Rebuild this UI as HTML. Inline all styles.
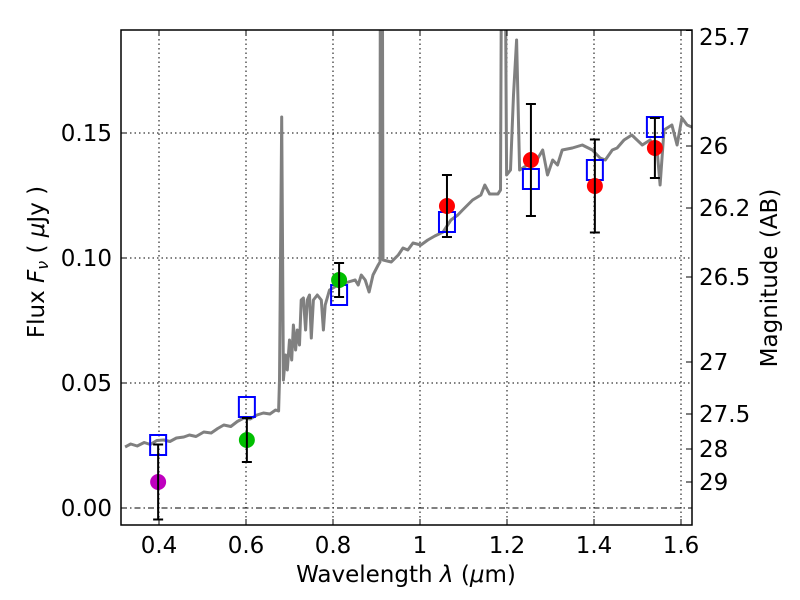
<!DOCTYPE html>
<html><head><meta charset="utf-8"><style>
body{margin:0;background:#fff;}
svg{display:block;font-family:"DejaVu Sans","Liberation Sans",sans-serif;}
</style></head><body>
<svg id="chart" width="800" height="600">
<defs><clipPath id="clip"><rect x="121" y="30" width="571" height="495"/></clipPath></defs>
<rect x="0" y="0" width="800" height="600" fill="#fff"/>
<g id="grid"></g>
<g id="plot" clip-path="url(#clip)"></g>
<g id="axes"></g>
<rect x="121" y="30" width="571" height="495" fill="none" stroke="#000" stroke-width="1.5"/>
<text x="406" y="582" font-size="23" text-anchor="middle">Wavelength  <tspan font-style="italic">λ</tspan> (<tspan font-style="italic">μ</tspan>m)</text>
<text transform="translate(44,262) rotate(-90)" font-size="23" text-anchor="middle">Flux  <tspan font-style="italic">F</tspan><tspan font-style="italic" font-size="16" dy="4">ν</tspan><tspan dy="-4">  (  </tspan><tspan font-style="italic">μ</tspan>Jy )</text>
<text transform="translate(777,278) rotate(-90)" font-size="23" text-anchor="middle">Magnitude (AB)</text>
</svg>
<script>
const specLam=[0.322,0.335,0.350,0.366,0.380,0.395,0.411,0.425,0.440,0.457,0.470,0.485,0.503,0.520,0.535,0.549,0.565,0.580,0.595,0.610,0.625,0.640,0.655,0.668,0.675,0.677,0.682,0.686,0.691,0.695,0.700,0.705,0.709,0.714,0.718,0.723,0.727,0.732,0.737,0.741,0.746,0.750,0.755,0.764,0.773,0.778,0.782,0.792,0.812,0.835,0.851,0.858,0.865,0.874,0.883,0.892,0.904,0.908,0.909,0.913,0.915,0.934,0.950,0.961,0.972,0.984,1.002,1.018,1.034,1.053,1.071,1.087,1.098,1.121,1.140,1.149,1.160,1.179,1.185,1.188,1.195,1.199,1.208,1.215,1.222,1.229,1.247,1.266,1.282,1.293,1.305,1.316,1.327,1.350,1.373,1.396,1.414,1.426,1.442,1.453,1.469,1.487,1.511,1.529,1.545,1.552,1.561,1.579,1.591,1.602,1.614,1.630];
const specFlux=[0.0244,0.0256,0.0248,0.0262,0.0254,0.0270,0.0272,0.0266,0.0280,0.0284,0.0292,0.0286,0.0304,0.0300,0.0318,0.0332,0.0326,0.0346,0.036,0.0356,0.0372,0.038,0.0376,0.0392,0.0388,0.0512,0.1564,0.0512,0.0612,0.0552,0.0672,0.0592,0.0732,0.0632,0.0712,0.0652,0.0832,0.084,0.0712,0.0832,0.0852,0.068,0.0832,0.0852,0.0832,0.0712,0.0812,0.0872,0.0892,0.0904,0.0912,0.0892,0.0932,0.0912,0.0864,0.0932,0.0972,0.0984,0.25,0.25,0.0992,0.0984,0.1012,0.104,0.1032,0.106,0.1052,0.1072,0.1088,0.1104,0.1152,0.1172,0.1192,0.1232,0.1252,0.1292,0.1256,0.1256,0.1272,0.25,0.25,0.1332,0.1352,0.1652,0.1872,0.1352,0.1372,0.1384,0.1432,0.1332,0.1392,0.1372,0.1432,0.144,0.1452,0.1432,0.14,0.1392,0.1432,0.144,0.1472,0.1492,0.1452,0.1472,0.1432,0.1292,0.1512,0.1532,0.1452,0.156,0.1532,0.152];
const photLam=[0.398,0.602,0.814,1.062,1.255,1.402,1.540];
const photFlux=[0.0104,0.0272,0.0912,0.1208,0.1392,0.1288,0.144];
const photErr=[0.015,0.0088,0.0068,0.0124,0.0224,0.0186,0.012];
const photColor=['#bf00bf','#00bf00','#00bf00','#ff0000','#ff0000','#ff0000','#ff0000'];
const modelFlux=[0.0252,0.0404,0.0852,0.1144,0.1316,0.1352,0.1524];
const xTicks=[0.4,0.6,0.8,1.0,1.2,1.4,1.6];
const xTickLabels=['0.4','0.6','0.8','1','1.2','1.4','1.6'];
const yTicks=[0.00,0.05,0.10,0.15];
const yTickLabels=['0.00','0.05','0.10','0.15'];
const magLabels=['25.7','26','26.2','26.5','27','27.5','28','29'];
const magFlux=[0.191,0.1448,0.12,0.0924,0.0584,0.0376,0.0236,0.0104];

const NS='http://www.w3.org/2000/svg';
const X=v=>159+(v-0.4)*435;
const Y=v=>508-v*2500;
function mk(parent,tag,attrs){const e=document.createElementNS(NS,tag);for(const k in attrs)e.setAttribute(k,attrs[k]);document.getElementById(parent).appendChild(e);return e;}

xTicks.forEach((t,i)=>{
  let g=mk('grid','line',{x1:X(t),x2:X(t),y1:30,y2:525,stroke:'#000','stroke-width':1,'stroke-dasharray':'1.5,3'});
  
  
  let a=mk('axes','line',{x1:X(t),x2:X(t),y1:525,y2:519,stroke:'#000'});
  
  
  let b=mk('axes','line',{x1:X(t),x2:X(t),y1:30,y2:36,stroke:'#000'});
  
  
  let l=mk('axes','text',{x:X(t),y:553,'font-size':23,'text-anchor':'middle'});
  l.textContent=xTickLabels[i];
  
  
});
yTicks.forEach((t,i)=>{
  let g=mk('grid','line',{x1:121,x2:692,y1:Y(t),y2:Y(t),stroke:'#000','stroke-width':1,'stroke-dasharray':t===0?'6,3,1.5,3':'1.5,3'});
  
  
  let a=mk('axes','line',{x1:121,x2:127,y1:Y(t),y2:Y(t),stroke:'#000'});
  
  
  let l=mk('axes','text',{x:112,y:Y(t)+8,'font-size':23,'text-anchor':'end'});
  l.textContent=yTickLabels[i];
  
  
});
magLabels.forEach((m,i)=>{
  const y=Math.max(Y(magFlux[i]),37);
  let a=mk('axes','line',{x1:692,x2:686,y1:Y(magFlux[i]),y2:Y(magFlux[i]),stroke:'#000'});
  
  
  let l=mk('axes','text',{x:699,y:y+8,'font-size':23,'text-anchor':'start'});
  l.textContent=m;
  
  
});
let d=specLam.map((v,i)=>(i?'L':'M')+X(v).toFixed(1)+','+Y(specFlux[i]).toFixed(1)).join('');
let sp=mk('plot','path',{d:d,fill:'none',stroke:'#808080','stroke-width':3,'stroke-linejoin':'round'});


photLam.forEach((v,i)=>{
  let s=mk('plot','rect',{x:X(v)-8,y:Y(modelFlux[i])-10,width:16,height:20,fill:'none',stroke:'#0000ff','stroke-width':2});
  
  
});
photLam.forEach((v,i)=>{
  let c=mk('plot','circle',{cx:X(v),cy:Y(photFlux[i]),r:8,fill:photColor[i]});
  
  
  const y1=Y(photFlux[i]+photErr[i]),y2=Y(photFlux[i]-photErr[i]);
  let e=mk('plot','path',{d:`M${X(v)},${y1}L${X(v)},${y2}M${X(v)-5},${y1}L${X(v)+5},${y1}M${X(v)-5},${y2}L${X(v)+5},${y2}`,stroke:'#000','stroke-width':2,fill:'none'});
  
  
});
</script>
</body></html>
